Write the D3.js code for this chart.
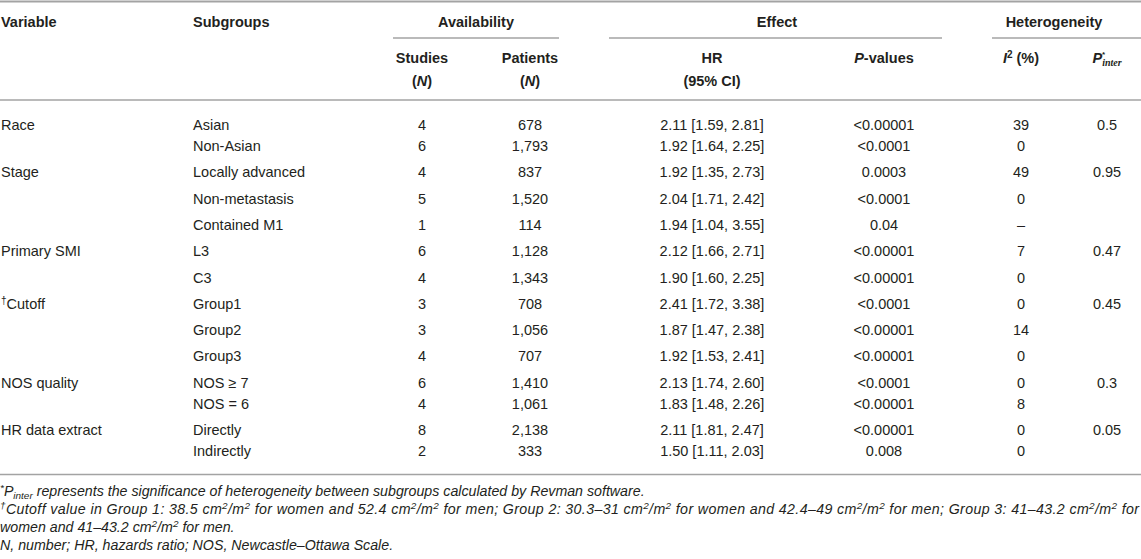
<!DOCTYPE html>
<html>
<head>
<meta charset="utf-8">
<script src="https://cdn.jsdelivr.net/npm/d3@7"></script>
<style>
body { margin: 0; background: #fff; }
svg { display: block; }
</style>
</head>
<body>
<svg id="table" width="1141" height="559"></svg>
<script>
/**
 * Table values, one entry per subgroup row.
 */
var variables = ["Race", "Stage", "Primary SMI", "Cutoff", "NOS quality", "HR data extract"];
var variableMarks = ["", "", "", "\u2020", "", ""];
var pInter = ["0.5", "0.95", "0.47", "0.45", "0.3", "0.05"];
var subgroups = ["Asian", "Non-Asian", "Locally advanced", "Non-metastasis", "Contained M1",
		 "L3", "C3", "Group1", "Group2", "Group3", "NOS \u2265 7", "NOS = 6",
		 "Directly", "Indirectly"];
var groupOf = [0, 0, 1, 1, 1, 2, 2, 3, 3, 3, 4, 4, 5, 5];
var studies = [4, 6, 4, 5, 1, 6, 4, 3, 3, 4, 6, 4, 8, 2];
var patients = [678, 1793, 837, 1520, 114, 1128, 1343, 708, 1056, 707, 1410, 1061, 2138, 333];
var hr = [2.11, 1.92, 1.92, 2.04, 1.94, 2.12, 1.90, 2.41, 1.87, 1.92, 2.13, 1.83, 2.11, 1.50];
var ciLow = [1.59, 1.64, 1.35, 1.71, 1.04, 1.66, 1.60, 1.72, 1.47, 1.53, 1.74, 1.48, 1.81, 1.11];
var ciHigh = [2.81, 2.25, 2.73, 2.42, 3.55, 2.71, 2.25, 3.38, 2.38, 2.41, 2.60, 2.26, 2.47, 2.03];
var pValues = ["<0.00001", "<0.0001", "0.0003", "<0.0001", "0.04", "<0.00001", "<0.00001",
	       "<0.0001", "<0.00001", "<0.00001", "<0.0001", "<0.00001", "<0.00001", "0.008"];
var i2 = [39, 0, 49, 0, null, 7, 0, 0, 14, 0, 0, 8, 0, 0];

/**
 * Groups whose rows sit closer together in the printed table.
 */
var tightGroups = [0, 4, 5];

var svg = d3.select("#table");
var W = 1141;
var FONT = "'Liberation Sans', Arial, sans-serif";
var TEXT = "#231f20";
var RULE = "#a3a3a3";
var fmtN = d3.format(",");
var fmtHR = d3.format(".2f");

/**
 * Column centres (or left edges for the two text columns).
 */
var colX = d3.scaleOrdinal()
    .domain(["variable", "subgroup", "studies", "patients", "hr", "p", "i2", "pinter"])
    .range([1, 193, 422, 530, 712, 884, 1021, 1107]);

/**
 * Row positions: each row adds a step, a short one inside tight groups.
 */
var offsets = [0];
for (var i = 1; i < subgroups.length; ++i) {
    var tight = groupOf[i] === groupOf[i - 1] && tightGroups.indexOf(groupOf[i]) >= 0;
    offsets.push(offsets[i - 1] + (tight ? 21 : 26.3));
}
var rowY = d3.scaleLinear()
    .domain([0, offsets[offsets.length - 1]])
    .range([125, 451]);

/**
 * Rules.
 */
function rule(x1, x2, y, w) {
    svg.append("line").attr("x1", x1).attr("x2", x2).attr("y1", y).attr("y2", y)
	.attr("stroke", RULE).attr("stroke-width", w);
}
rule(0, W, 1.5, 2);
rule(393, 559, 38, 1.3);
rule(609, 942, 38, 1.3);
rule(992, W, 38, 1.3);
rule(0, W, 100, 1.6);
rule(0, W, 474.5, 1.6);

/**
 * Header cells.
 */
function header(x, y, anchor, parts) {
    var t = svg.append("text")
	.attr("x", x).attr("y", y + 5)
	.attr("text-anchor", anchor)
	.attr("style", "font-family: " + FONT + "; font-size: 14.5px; font-weight: bold; fill: " + TEXT);
    parts.forEach(function (p) {
	var s = t.append("tspan").text(p.t);
	if (p.i) s.attr("font-style", "italic");
	if (p.size) s.attr("font-size", p.size);
	if (p.dy) s.attr("dy", p.dy);
	if (p.dx) s.attr("dx", p.dx);
	if (p.w) s.attr("font-weight", p.w);
	if (p.f) s.attr("font-family", p.f);
    });
    return t;
}
header(colX("variable"), 22, "start", [{t: "Variable"}]);
header(colX("subgroup"), 22, "start", [{t: "Subgroups"}]);
header(476, 22, "middle", [{t: "Availability"}]);
header(777, 22, "middle", [{t: "Effect"}]);
header(1054, 22, "middle", [{t: "Heterogeneity"}]);
header(colX("studies"), 58, "middle", [{t: "Studies"}]);
header(colX("studies"), 81, "middle", [{t: "("}, {t: "N", i: true}, {t: ")"}]);
header(colX("patients"), 58, "middle", [{t: "Patients"}]);
header(colX("patients"), 81, "middle", [{t: "("}, {t: "N", i: true}, {t: ")"}]);
header(colX("hr"), 58, "middle", [{t: "HR"}]);
header(colX("hr"), 81, "middle", [{t: "(95% CI)"}]);
header(colX("p"), 58, "middle", [{t: "P", i: true}, {t: "-values"}]);
header(colX("i2"), 58, "middle", [{t: "I", i: true}, {t: "2", size: "10px", dy: -5},
				  {t: " (%)", dy: 5}]);
header(colX("pinter"), 58, "middle", [{t: "P", i: true}, {t: "*", size: "8px", dy: -6},
				      {t: "inter", i: true, size: "10px", dy: 9, dx: -3,
				       w: "bold", f: "'Liberation Serif', serif"}]);

/**
 * Body rows.
 */
var rows = subgroups.map(function (s, i) {
    var g = groupOf[i];
    var first = i === 0 || groupOf[i - 1] !== g;
    return {
	variable: first ? variables[g] : "",
	mark: first ? variableMarks[g] : "",
	subgroup: s,
	studies: studies[i],
	patients: fmtN(patients[i]),
	hr: fmtHR(hr[i]) + " [" + fmtHR(ciLow[i]) + ", " + fmtHR(ciHigh[i]) + "]",
	p: pValues[i],
	i2: i2[i] === null ? "\u2013" : String(i2[i]),
	pinter: first ? pInter[g] : "",
	y: rowY(offsets[i])
    };
});

var bodyStyle = "font-family: " + FONT + "; font-size: 14.5px; fill: " + TEXT;
var row = svg.append("g").selectAll("g").data(rows).join("g")
    .attr("transform", function (d) { return "translate(0," + (d.y + 5) + ")"; });

var varText = row.append("text").attr("x", colX("variable")).attr("style", bodyStyle);
varText.filter(function (d) { return d.mark; }).append("tspan")
    .attr("font-size", "10px").attr("dy", -5).text(function (d) { return d.mark; });
varText.append("tspan")
    .attr("dy", function (d) { return d.mark ? 5 : 0; })
    .text(function (d) { return d.variable; });

row.append("text").attr("x", colX("subgroup")).attr("style", bodyStyle)
    .text(function (d) { return d.subgroup; });

["studies", "patients", "hr", "p", "i2", "pinter"].forEach(function (k) {
    row.append("text").attr("x", colX(k)).attr("text-anchor", "middle")
	.attr("style", bodyStyle)
	.text(function (d) { return d[k]; });
});

/**
 * Footnotes, in italics. The second line is justified to the full width.
 */
var sup = {size: "0.7em", dy: -5};
function up(t) { return {t: t, size: "0.7em", dy: -5}; }
function down(t) { return {t: t, dy: 5}; }
var notes = [
    [up("*"), down("P"), {t: "inter", size: "0.7em", dy: 3},
     {t: " represents the significance of heterogeneity between subgroups calculated by Revman software.", dy: -3}],
    [up("\u2020"), down("Cutoff value in Group 1: 38.5 cm"), up("2"), down("/m"), up("2"),
     down(" for women and 52.4 cm"), up("2"), down("/m"), up("2"),
     down(" for men; Group 2: 30.3\u201331 cm"), up("2"), down("/m"), up("2"),
     down(" for women and 42.4\u201349 cm"), up("2"), down("/m"), up("2"),
     down(" for men; Group 3: 41\u201343.2 cm"), up("2"), down("/m"), up("2"), down(" for")],
    [{t: "women and 41\u201343.2 cm"}, up("2"), down("/m"), up("2"), down(" for men.")],
    [{t: "N, number; HR, hazards ratio; NOS, Newcastle\u2013Ottawa Scale."}]
];
var noteY = [492, 510, 528, 546];
var notesG = svg.append("g")
    .attr("style", "font-family: " + FONT + "; font-size: 13px; font-style: italic; fill: " + TEXT);
var noteNodes = notes.map(function (parts, k) {
    var t = notesG.append("text").attr("x", 0).attr("y", noteY[k] + 4);
    parts.forEach(function (p) {
	var s = t.append("tspan").text(p.t);
	if (p.size) s.attr("font-size", p.size);
	if (p.dy) s.attr("dy", p.dy);
    });
    return t;
});
// size the notes so the first line ends where it does in print
var fs = 13 * 645 / noteNodes[0].node().getComputedTextLength();
notesG.attr("style", "font-family: " + FONT + "; font-size: " + fs + "px; font-style: italic; fill: " + TEXT);
noteNodes[1].attr("textLength", 1139).attr("lengthAdjust", "spacing");
</script>
</body>
</html>
